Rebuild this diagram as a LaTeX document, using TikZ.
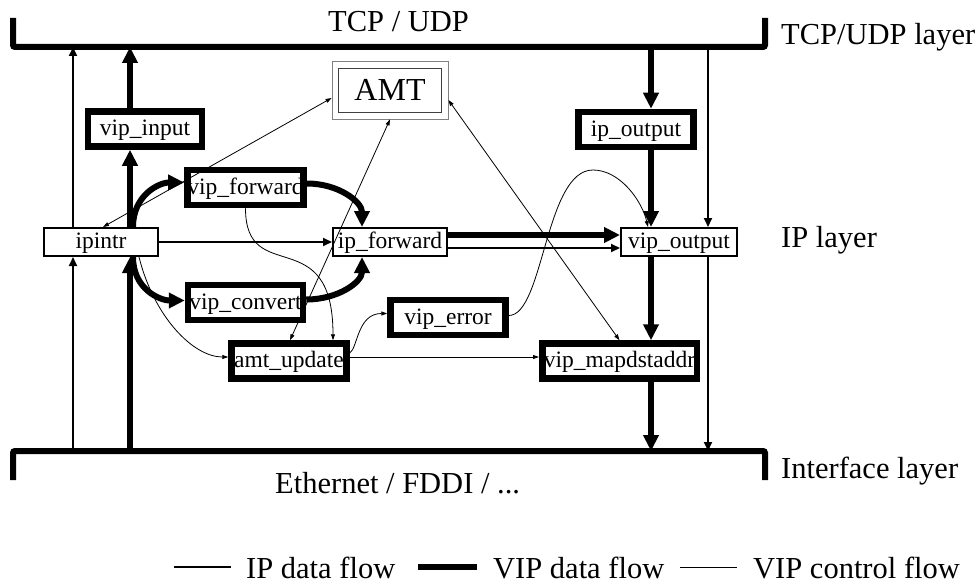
\documentclass[tikz,border=0pt]{standalone}
\usepackage{fontspec}
\setmainfont{Liberation Serif}
\usetikzlibrary{arrows.meta}
\begin{document}
\begin{tikzpicture}[x=1pt,y=-1pt,
  thickbox/.style={draw, line width=6.5pt, minimum width=115pt, minimum height=35pt,
    inner sep=0pt, text height=13pt, text depth=0pt, font=\fontsize{23.5}{26}\selectfont},
  thinbox/.style={draw, line width=2pt, minimum width=114pt, minimum height=28pt,
    inner sep=0pt, text height=13pt, text depth=0pt, font=\fontsize{23.5}{26}\selectfont},
  lbl/.style={inner sep=0pt, font=\fontsize{30.5}{34}\selectfont},
  bar/.style={line width=6pt, rounded corners=2pt},
  ipflow/.style={line width=2pt, -{Triangle[length=9pt,width=8pt]}},
  vipflow/.style={line width=6pt, -{Triangle[length=16pt,width=15pt]}},
  ctrl/.style={line width=0.8pt, -{Triangle[length=6pt,width=4pt]}},
  ctrlboth/.style={line width=0.8pt, {Triangle[length=6pt,width=4pt]}-{Triangle[length=6pt,width=4pt]}},
  legendline/.style={line width=#1}
]
\useasboundingbox (0,0) rectangle (977,583);

% layer bars
\draw[bar] (13,18) -- (13,47) -- (765,47) -- (765,18);
\draw[bar] (13,480) -- (13,451) -- (765,451) -- (765,480);

% layer labels
\node[lbl, anchor=base west] (tcpudp) at (328,32) {TCP / UDP};
\node[lbl, anchor=base west] (ether) at (275,493) {Ethernet / FDDI / ...};
\node[lbl, anchor=base west] (tcplayer) at (781,45) {TCP/UDP layer};
\node[lbl, anchor=base west] (iplayer) at (781,247) {IP layer};
\node[lbl, anchor=base west] (iflayer) at (781,478) {Interface layer};

% function boxes
\node[thickbox, minimum width=114pt] (vipin) at (145,129) {vip\_input};
\node[thickbox] (vipfwd) at (245.5,187.5) {vip\_forward};
\node[thickbox] (vipconv) at (245.5,302.5) {vip\_convert};
\node[thickbox] (amtup) at (289,361) {amt\_update};
\node[thickbox] (viperr) at (448,317.5) {vip\_error};
\node[thickbox, minimum width=154.5pt] (vipmap) at (619.5,361) {vip\_mapdstaddr};
\node[thickbox] (ipout) at (636,129.5) {ip\_output};
\node[thinbox] (ipintr) at (101,242) {ipintr};
\node[thinbox] (ipfwd) at (390,242) {ip\_forward};
\node[thinbox, minimum width=116pt] (vipout) at (679,242) {vip\_output};

% address mapping table, double frame
\node[draw=gray, line width=0.8pt, minimum width=116pt, minimum height=58pt,
  inner sep=0pt, font=\fontsize{32}{36}\selectfont] (amt) at (390,90) {AMT};
\node[draw=black!75, line width=0.9pt, minimum width=103pt, minimum height=44pt,
  inner sep=0pt] (amtin) at (amt.center) {};

% attachment points on the layer bars
\coordinate (t73) at (73,47);   \coordinate (b73) at (73,451);
\coordinate (t130) at (130,47); \coordinate (b130) at (130,451);
\coordinate (t651) at (651,47); \coordinate (b651) at (651,451);
\coordinate (t708) at (708,47); \coordinate (b708) at (708,451);

% IP data flow
\draw[ipflow] (b73) -- (b73 |- ipintr.south);
\draw[ipflow] (ipintr.north -| t73) -- (t73);
\draw[ipflow] (ipintr) -- (ipfwd);
\draw[ipflow] ([yshift=-6pt]ipfwd.east) -- ([yshift=-6pt]ipfwd.east -| vipout.west);
\draw[ipflow] (t708) -- (t708 |- vipout.north);
\draw[ipflow] (vipout.south -| b708) -- (b708);

% VIP data flow
\draw[vipflow] (b130) -- (b130 |- ipintr.south);
\draw[vipflow] (ipintr.north -| b130) -- (b130 |- vipin.south);
\draw[vipflow] (vipin.north -| t130) -- (t130);
\draw[vipflow] (t651) -- (t651 |- ipout.north);
\draw[vipflow] (ipout.south -| t651) -- (t651 |- vipout.north);
\draw[vipflow] (vipout.south -| t651) -- (t651 |- vipmap.north);
\draw[vipflow] (vipmap.south -| b651) -- (b651);
\draw[vipflow] ([yshift=7pt]ipfwd.east) -- ([yshift=7pt]ipfwd.east -| vipout.west);
\draw[vipflow] ([xshift=32pt]ipintr.north) .. controls +(0,-32) and +(-25,0) .. ([yshift=5pt]vipfwd.west);
\draw[vipflow] ([yshift=4pt]vipfwd.east) .. controls +(32,0) and +(0,-25) .. ([xshift=-28pt]ipfwd.north);
\draw[vipflow] ([xshift=32pt]ipintr.south) .. controls +(0,32) and +(-25,0) .. ([yshift=2pt]vipconv.west);
\draw[vipflow] ([yshift=3pt]vipconv.east) .. controls +(32,0) and +(0,25) .. ([xshift=-28pt]ipfwd.south);

% VIP control flow
\coordinate (peak) at (593,170);
\draw[ctrlboth] ([xshift=2pt]ipintr.north) -- ([yshift=-8pt]amt.west);
\draw[ctrlboth] ([xshift=1pt]amtup.north) -- (amt.south);
\draw[ctrlboth] ([yshift=-10pt]amt.east) -- (vipmap.north);
\draw[ctrl] ([xshift=38pt]ipintr.south) .. controls +(15,60) and +(-35,0) .. ([yshift=4pt]amtup.west);
\draw[ctrl] (vipfwd.south) .. controls +(0,80) and +(0,-120) .. ([xshift=44pt]amtup.north);
\draw[ctrl] ([yshift=8pt]amtup.east) .. controls +(8,-5) and +(-30,0) .. ([yshift=4pt]viperr.west);
\draw[ctrl] ([yshift=2pt]viperr.east) .. controls +(35,0) and +(-48,0) .. (peak)
  .. controls +(27,0) and +(-6,-26) .. ([xshift=-31pt]vipout.north);
\draw[ctrl] ([yshift=4pt]amtup.east) -- ([yshift=4pt]amtup.east -| vipmap.west);

% legend
\coordinate (l1a) at (174,567); \coordinate (l1b) at (231,567);
\coordinate (l2a) at (418,567); \coordinate (l2b) at (477,567);
\coordinate (l3a) at (680,567); \coordinate (l3b) at (737,567);
\draw[legendline=2pt] (l1a) -- (l1b);
\draw[legendline=6pt] (l2a) -- (l2b);
\draw[legendline=0.8pt] (l3a) -- (l3b);
\node[lbl, anchor=base west] (leg1) at (246,578) {IP data flow};
\node[lbl, anchor=base west] (leg2) at (493,578) {VIP data flow};
\node[lbl, anchor=base west] (leg3) at (753,578) {VIP control flow};
\end{tikzpicture}
\end{document}
